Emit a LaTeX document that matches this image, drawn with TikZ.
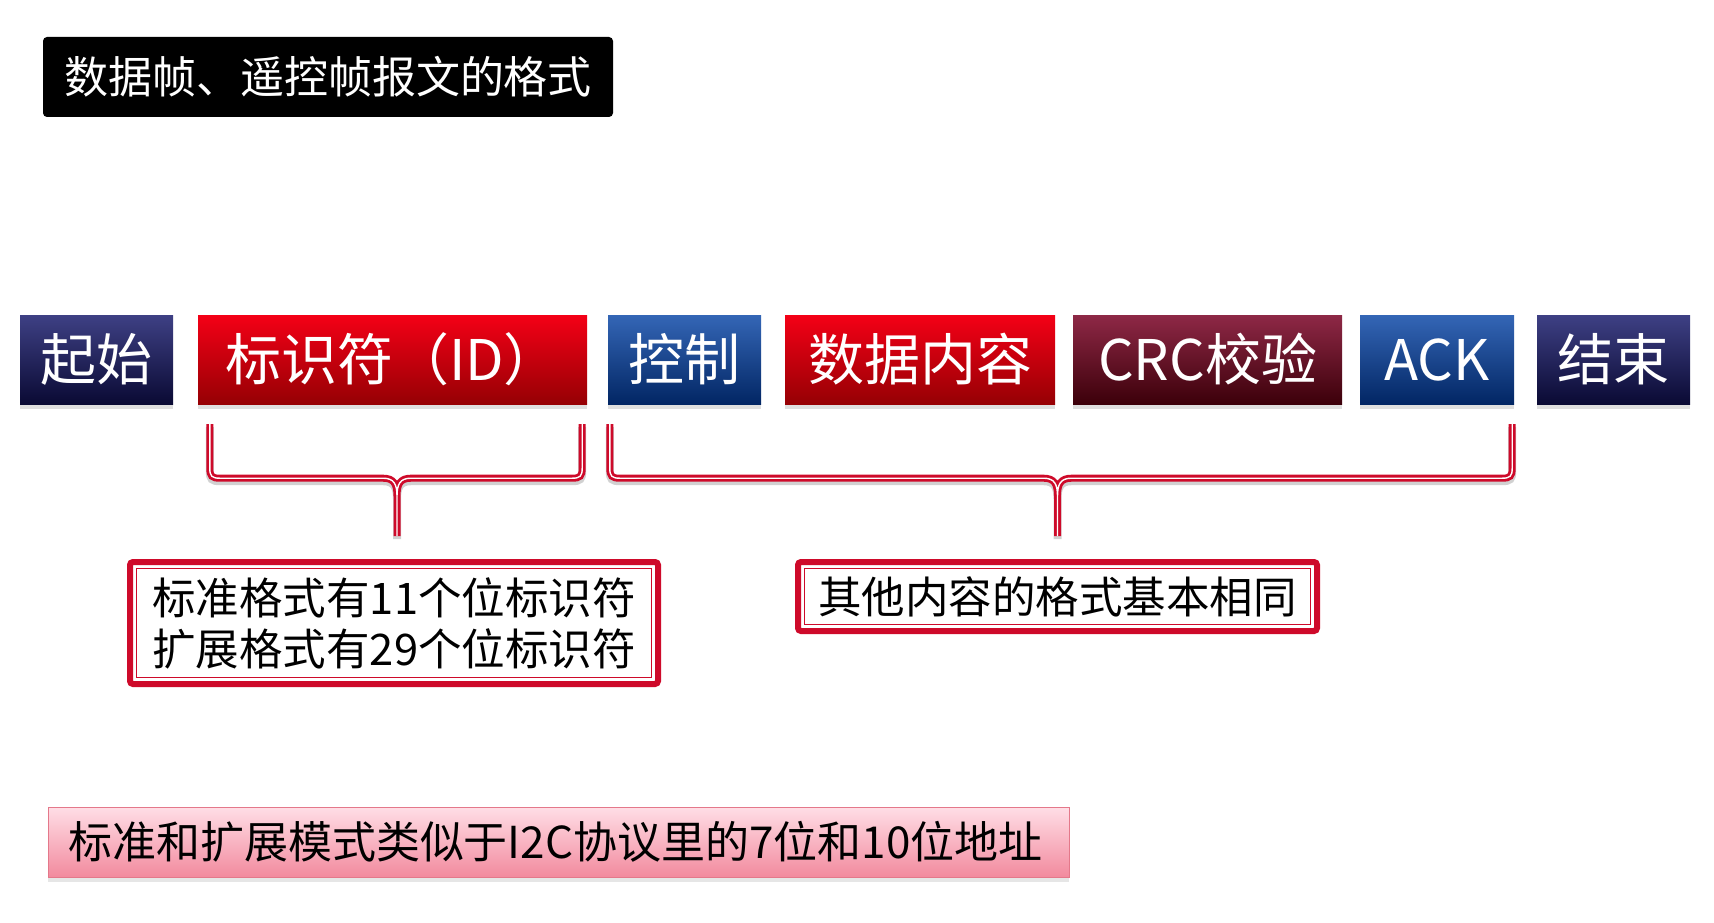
\documentclass[tikz,border=0pt]{standalone}
\usepackage{fontspec}
\setmainfont{Noto Sans CJK SC}
\usetikzlibrary{calc,shadows}

\definecolor{framered}{RGB}{206,10,42}
\definecolor{navytop}{RGB}{62,64,132}
\definecolor{navybot}{RGB}{10,10,52}
\definecolor{redtop}{RGB}{244,0,22}
\definecolor{redbot}{RGB}{150,0,4}
\definecolor{bluetop}{RGB}{52,102,182}
\definecolor{bluebot}{RGB}{2,38,100}
\definecolor{winetop}{RGB}{142,40,70}
\definecolor{winebot}{RGB}{60,0,10}
\definecolor{pinktop}{RGB}{255,222,230}
\definecolor{pinkbot}{RGB}{242,138,158}

\begin{document}
\begin{tikzpicture}[
    x=1pt,y=-1pt,
    slot/.style={minimum height=89pt, inner sep=0pt, text=white,
      font=\fontsize{56}{60}\selectfont,
      drop shadow={shadow xshift=0pt, shadow yshift=-5pt, opacity=0.25}},
    navyslot/.style={slot, top color=navytop, bottom color=navybot},
    redslot/.style={slot, top color=redtop, bottom color=redbot},
    blueslot/.style={slot, top color=bluetop, bottom color=bluebot},
    wineslot/.style={slot, top color=winetop, bottom color=winebot},
    remark/.style={draw=framered, line width=6pt, rounded corners=3pt, fill=white,
      inner xsep=14pt, align=left, font=\fontsize{43.5}{51}\selectfont,
      path picture={\draw[framered, line width=1.4pt, sharp corners]
        ([shift={(6.5pt,-6.5pt)}]path picture bounding box.north west) rectangle
        ([shift={(-6.5pt,6.5pt)}]path picture bounding box.south east);}},
    brace/.style={draw=white, line width=1.4pt, line join=round,
      preaction={draw=black!18, line width=8pt, transform canvas={yshift=-3pt}},
      preaction={draw=framered, line width=7pt}}
  ]
    \useasboundingbox (0,0) rectangle (1714,923);

    % title
    \node[fill=black, rounded corners=4pt, text=white, minimum width=570pt,
      minimum height=80pt, font=\fontsize{44}{48}\selectfont] (title) at (328,77)
      {数据帧、遥控帧报文的格式};

    % frame fields
    \node[navyslot, minimum width=153pt] (start) at (96.5,359.5) {起始};
    \node[redslot, minimum width=389pt] (id) at (392.5,359.5) {标识符（ID）};
    \node[blueslot, minimum width=153pt] (ctrl) at (684.5,359.5) {控制};
    \node[redslot, minimum width=270pt] (data) at (920,359.5) {数据内容};
    \node[wineslot, minimum width=269pt] (crc) at (1207.5,359.5) {CRC校验};
    \node[blueslot, minimum width=154pt] (ack) at (1437,359.5) {ACK};
    \node[navyslot, minimum width=153pt] (stop) at (1613.5,359.5) {结束};

    % notes
    \node[remark, minimum width=528pt, minimum height=122pt] (fmt) at (394,623)
      {标准格式有11个位标识符\\扩展格式有29个位标识符};
    \node[remark, minimum width=519pt, minimum height=69pt] (same) at (1057.5,596.5)
      {其他内容的格式基本相同};

    \node[draw=framered!55, line width=1pt, top color=pinktop, bottom color=pinkbot,
      minimum height=70pt, text width=981pt, inner xsep=20pt, align=left,
      font=\fontsize{44}{48}\selectfont,
      drop shadow={shadow xshift=0pt, shadow yshift=-5pt, opacity=0.2}] (hint) at (558.5,842)
      {标准和扩展模式类似于I2C协议里的7位和10位地址};

    % braces
    \coordinate (idl) at ($(id.south west)+(12,20)$);
    \coordinate (idr) at ($(id.south east)+(-5,20)$);
    \coordinate (idtip) at ($(fmt.north)+(3,-23)$);
    \coordinate (idmid) at (idtip |- idl);
    \draw[brace]
      (idl) -- ++(0,44) .. controls ++(0,8) and ++(-8,0) .. ++(10,10)
      -- ($(idmid)+(-14,54)$) .. controls ++(11,0) and ++(0,-12) .. ($(idmid)+(0,72)$)
      -- (idtip)
      (idr) -- ++(0,44) .. controls ++(0,8) and ++(8,0) .. ++(-10,10)
      -- ($(idmid)+(14,54)$) .. controls ++(-11,0) and ++(0,-12) .. ($(idmid)+(0,72)$);

    \coordinate (restl) at ($(ctrl.south west)+(2,20)$);
    \coordinate (restr) at ($(ack.south east)+(-2,20)$);
    \coordinate (resttip) at ($(same.north)+(0,-23)$);
    \coordinate (restmid) at (resttip |- restl);
    \draw[brace]
      (restl) -- ++(0,44) .. controls ++(0,8) and ++(-8,0) .. ++(10,10)
      -- ($(restmid)+(-14,54)$) .. controls ++(11,0) and ++(0,-12) .. ($(restmid)+(0,72)$)
      -- (resttip)
      (restr) -- ++(0,44) .. controls ++(0,8) and ++(8,0) .. ++(-10,10)
      -- ($(restmid)+(14,54)$) .. controls ++(-11,0) and ++(0,-12) .. ($(restmid)+(0,72)$);
  \end{tikzpicture}
\end{document}
